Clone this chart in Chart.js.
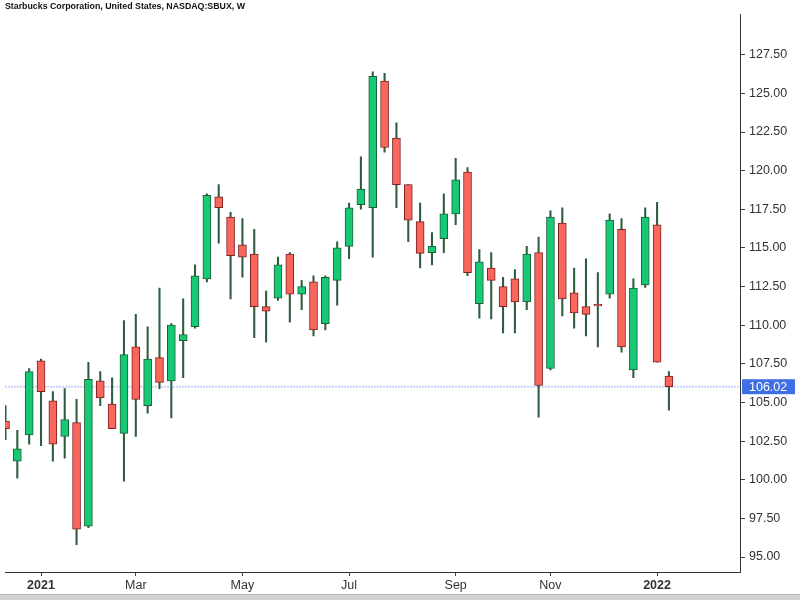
<!DOCTYPE html>
<html>
<head>
<meta charset="utf-8">
<script src="https://cdn.jsdelivr.net/npm/chart.js@4"></script>
<style>
	html, body { margin: 0; padding: 0; background: #fff; }
	canvas { display: block; }
</style>
</head>
<body>
<canvas id="sbuxChart" width="800" height="600"></canvas>
<script>
// weekly candles, one per week, oldest first
const opens  = [103.8, 101.2, 102.9, 107.7, 105.1, 102.8, 103.7, 97.0, 106.4, 104.9,
	103.0, 108.6, 104.8, 107.9, 106.4, 109.0, 109.9, 113.0, 118.3, 117.0,
	115.2, 114.6, 111.2, 111.75, 114.6, 112.0, 112.8, 110.1, 112.9, 115.1,
	117.8, 117.6, 125.8, 122.1, 119.1, 116.7, 114.7, 115.6, 117.2, 119.9,
	111.4, 113.7, 112.5, 113.0, 111.5, 114.7, 107.2, 116.6, 112.1, 111.2,
	111.3, 112.0, 116.2, 107.1, 112.6, 116.5, 106.7];
const highs  = [104.8, 103.2, 107.2, 107.8, 105.7, 105.9, 105.2, 107.6, 107.0, 106.6,
	110.3, 110.7, 109.9, 112.4, 110.1, 111.7, 113.9, 118.5, 119.1, 117.3,
	116.9, 116.2, 112.2, 114.4, 114.7, 112.9, 113.2, 113.2, 115.4, 117.9,
	120.9, 126.4, 126.3, 123.1, 119.1, 117.9, 116.0, 118.5, 120.8, 120.2,
	114.9, 114.7, 113.1, 113.6, 115.1, 115.7, 117.4, 117.6, 113.7, 114.3,
	113.4, 117.2, 116.9, 113.0, 117.6, 117.95, 107.0];
const lows   = [102.6, 100.1, 102.3, 102.2, 101.2, 101.4, 95.8, 96.9, 104.8, 103.3,
	99.9, 102.8, 104.3, 105.9, 104.0, 106.6, 109.8, 112.8, 115.3, 111.7,
	113.1, 109.2, 108.9, 111.6, 110.2, 111.0, 109.3, 109.7, 111.3, 114.3,
	117.5, 114.4, 121.2, 117.6, 115.4, 113.7, 113.9, 114.7, 116.5, 113.2,
	110.45, 110.4, 109.5, 109.5, 111.0, 104.05, 107.1, 110.6, 109.8, 109.3,
	108.6, 111.75, 108.25, 106.6, 112.45, 107.6, 104.5];
const closes = [103.3, 102.0, 107.0, 105.7, 102.3, 103.9, 96.8, 106.5, 105.3, 103.3,
	108.1, 105.2, 107.8, 106.3, 110.0, 109.4, 113.2, 118.4, 117.6, 114.5,
	114.4, 111.2, 110.9, 113.9, 112.0, 112.5, 109.7, 113.1, 115.0, 117.6,
	118.8, 126.1, 121.5, 119.1, 116.8, 114.65, 115.1, 117.2, 119.4, 113.4,
	114.1, 112.9, 111.2, 111.5, 114.6, 106.1, 117.0, 111.7, 110.8, 110.7,
	111.25, 116.8, 108.6, 112.4, 117.0, 107.6, 106.02];

// first weekly bar of each labelled month
const monthTickIdx = [3, 11, 20, 29, 38, 46, 55];
const monthTickLabels = ['2021', 'Mar', 'May', 'Jul', 'Sep', 'Nov', '2022'];
const priceTicks = [95, 97.5, 100, 102.5, 105, 107.5, 110, 112.5, 115, 117.5, 120, 122.5, 125, 127.5];
const lastPrice = closes[closes.length - 1];

const upFill = '#17c874', upEdge = '#1d5e38';
const downFill = '#f9665b', downEdge = '#7c2020';
const wickColor = '#2d5c3e';

const wickData = highs.map((h, i) => ({ x: i, y: [lows[i], h] }));
const bodyData = opens.map((o, i) => ({ x: i, y: [o, closes[i]] }));
const isUp = opens.map((o, i) => closes[i] >= o);

const bgPlugin = {
	id: 'bg',
	beforeDraw(chart) {
		const c = chart.ctx;
		c.save();
		c.fillStyle = '#fff';
		c.fillRect(0, 0, chart.width, chart.height);
		c.fillStyle = '#d2d2d2';
		c.fillRect(0, 594, chart.width, 6);
		c.fillStyle = '#b4b4b4';
		c.fillRect(0, 594, chart.width, 1);
		c.restore();
	}
};

const priceTag = {
	id: 'priceTag',
	afterDraw(chart) {
		const c = chart.ctx;
		const y = chart.scales.y.getPixelForValue(lastPrice);
		const x0 = chart.chartArea.right + 2;
		c.save();
		c.fillStyle = '#3e6fe4';
		c.fillRect(x0, y - 7.5, 53, 15);
		c.fillStyle = '#fff';
		c.font = '12.5px "Liberation Sans", Arial, sans-serif';
		c.textBaseline = 'middle';
		c.fillText(lastPrice.toFixed(2), x0 + 7, y + 0.5);
		c.restore();
	}
};

new Chart(document.getElementById('sbuxChart'), {
	data: {
		datasets: [
			{
				type: 'line',
				data: [{ x: -0.04, y: lastPrice }, { x: 62, y: lastPrice }],
				borderColor: 'rgba(175,190,246,0.7)',
				borderWidth: 2,
				borderDash: [2, 1],
				pointRadius: 0,
				order: 3,
				clip: 0
			},
			{
				type: 'bar',
				data: wickData,
				backgroundColor: wickColor,
				barThickness: 1.4,
				grouped: false,
				order: 2,
				clip: 0
			},
			{
				type: 'bar',
				data: bodyData,
				backgroundColor: isUp.map(u => u ? upFill : downFill),
				borderColor: isUp.map(u => u ? upEdge : downEdge),
				borderWidth: 1,
				borderSkipped: false,
				barThickness: 8,
				minBarLength: 1.5,
				grouped: false,
				order: 1,
				clip: 0
			}
		]
	},
	options: {
		responsive: false,
		animation: false,
		devicePixelRatio: 1,
		layout: { padding: { left: 5, right: 0, top: 0, bottom: 8 } },
		plugins: {
			legend: { display: false },
			tooltip: { enabled: false },
			title: {
				display: true,
				text: 'Starbucks Corporation, United States, NASDAQ:SBUX, W',
				align: 'start',
				color: '#111',
				font: { family: '"Liberation Sans", Arial, sans-serif', size: 8.8, weight: 'bold' },
				padding: { top: 1, bottom: 3 }
			}
		},
		scales: {
			x: {
				type: 'linear',
				offset: false,
				min: -0.04,
				max: 62,
				afterBuildTicks: scale => { scale.ticks = monthTickIdx.map(v => ({ value: v })); },
				afterFit: scale => { scale.height = 20; },
				ticks: {
					autoSkip: false,
					maxRotation: 0,
					padding: 2,
					color: '#333',
					callback: v => monthTickLabels[monthTickIdx.indexOf(v)],
					font: ctx => ({
						family: '"Liberation Sans", Arial, sans-serif',
						size: 12.5,
						weight: /^\d{4}$/.test(ctx.tick && ctx.tick.label) ? 'bold' : 'normal'
					})
				},
				grid: { offset: false, drawOnChartArea: false, tickLength: 4, color: '#444' },
				border: { display: true, color: '#333', width: 1 }
			},
			y: {
				position: 'right',
				min: 94.03,
				max: 130.1,
				afterBuildTicks: scale => { scale.ticks = priceTicks.map(v => ({ value: v })); },
				afterFit: scale => { scale.width = 60; },
				ticks: {
					padding: 4,
					color: '#333',
					callback: v => v.toFixed(2),
					font: { family: '"Liberation Sans", Arial, sans-serif', size: 12.5 }
				},
				grid: { drawOnChartArea: false, tickLength: 5, color: '#444' },
				border: { display: true, color: '#333', width: 1 }
			}
		}
	},
	plugins: [bgPlugin, priceTag]
});
</script>
</body>
</html>
